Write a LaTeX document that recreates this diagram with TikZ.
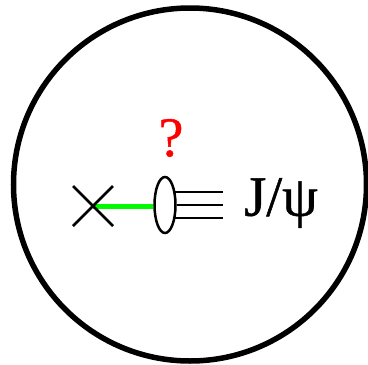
\documentclass[tikz,border=0pt]{standalone}
\usepackage{fontspec}
\setmainfont{Liberation Serif}
\newfontfamily\heavy[FakeBold=0.8]{Liberation Serif}
\usetikzlibrary{shapes.geometric}
\begin{document}
\begin{tikzpicture}[x=1pt,y=-1pt,
  ink/.style={draw=black,line width=2.5pt}]
\useasboundingbox (0,0) rectangle (368,365);
\node[draw=black,line width=5.5pt,circle,minimum size=353pt,inner sep=0pt] (outer) at (190,184.5) {};
\node[ink,ellipse,minimum width=21pt,minimum height=56pt,inner sep=0pt] (blob) at (165,205) {};
\coordinate (xc) at (93,206.5);
\coordinate (a) at (73,186);
\coordinate (b) at (113,226);
\coordinate (c) at (73,226);
\coordinate (d) at (113,186);
\draw[draw={rgb,255:red,0;green,250;blue,0},line width=5pt] (blob.west |- xc) -- (xc);
\draw[ink] (a) -- (b);
\draw[ink] (c) -- (d);
\coordinate (l1) at (223,192);
\coordinate (l2) at (223,205);
\coordinate (l3) at (223,218);
\draw[ink] (174,192) -- (l1);
\draw[ink] (blob.east |- l2) -- (l2);
\draw[ink] (174,218) -- (l3);
\node[font=\fontsize{56}{56}\selectfont\heavy,text=red,inner sep=0pt] (q) at (171,138) {?};
\node[font=\fontsize{57}{57}\selectfont\heavy,inner sep=0pt] (jpsi) at (281,203) {J/ψ};
\end{tikzpicture}
\end{document}
